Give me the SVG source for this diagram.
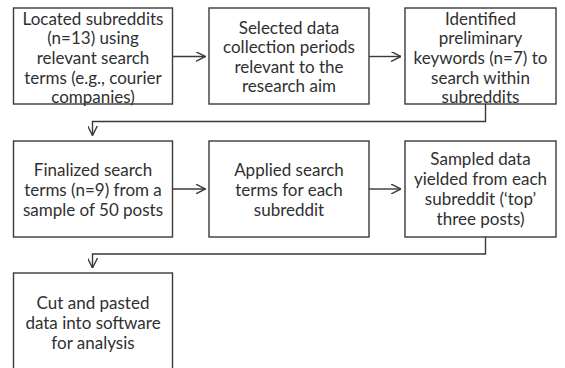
<svg xmlns="http://www.w3.org/2000/svg" width="565" height="368" viewBox="0 0 565 368">
<style>
  .box { fill: #ffffff; stroke: #3a3a3a; stroke-width: 1.4; }
  .lbl { font-family: "Lato", "Liberation Sans", sans-serif; font-size: 17px; fill: #303030; text-anchor: middle; dominant-baseline: central; }
  .conn { fill: none; stroke: #3a3a3a; stroke-width: 1.4; }
</style>
<defs>
  <marker id="chev" viewBox="0 0 10 10" refX="10" refY="5" markerWidth="10" markerHeight="10" markerUnits="userSpaceOnUse" orient="auto">
    <path d="M0,0 L10,5 L0,10" fill="none" stroke="#3a3a3a" stroke-width="1.4"/>
  </marker>
</defs>
<rect width="565" height="368" fill="#ffffff"/>
<g id="connectors">
  <path class="conn" d="M172.5,56.5 H205.5" marker-end="url(#chev)"/>
  <path class="conn" d="M369,56.5 H401" marker-end="url(#chev)"/>
  <path class="conn" d="M485.5,104 V121.5 H92.5 V135.5" marker-end="url(#chev)"/>
  <path class="conn" d="M172.5,189 H205.5" marker-end="url(#chev)"/>
  <path class="conn" d="M369,189 H401" marker-end="url(#chev)"/>
  <path class="conn" d="M485.5,237 V254 H92.5 V268" marker-end="url(#chev)"/>
</g>
<g id="n1">
  <rect class="box" x="13.5" y="8" width="159" height="96"/>
  <text class="lbl" x="93" y="18">Located subreddits</text>
  <text class="lbl" x="93" y="37.7">(n=13) using</text>
  <text class="lbl" x="93" y="57.4">relevant search</text>
  <text class="lbl" x="93" y="77.1">terms (e.g., courier</text>
  <text class="lbl" x="93" y="96.8">companies)</text>
</g>
<g id="n2">
  <rect class="box" x="209" y="8" width="160" height="96"/>
  <text class="lbl" x="289" y="27">Selected data</text>
  <text class="lbl" x="289" y="46.6">collection periods</text>
  <text class="lbl" x="289" y="66.2">relevant to the</text>
  <text class="lbl" x="289" y="85.8">research aim</text>
</g>
<g id="n3">
  <rect class="box" x="405" y="8" width="151" height="96"/>
  <text class="lbl" x="480.5" y="18">Identified</text>
  <text class="lbl" x="480.5" y="37.7">preliminary</text>
  <text class="lbl" x="480.5" y="57.4">keywords (n=7) to</text>
  <text class="lbl" x="480.5" y="77.1">search within</text>
  <text class="lbl" x="480.5" y="96.8">subreddits</text>
</g>
<g id="n4">
  <rect class="box" x="13.5" y="141" width="159" height="96"/>
  <text class="lbl" x="93" y="169">Finalized search</text>
  <text class="lbl" x="93" y="189">terms (n=9) from a</text>
  <text class="lbl" x="93" y="209">sample of 50 posts</text>
</g>
<g id="n5">
  <rect class="box" x="209" y="141" width="160" height="96"/>
  <text class="lbl" x="289" y="169">Applied search</text>
  <text class="lbl" x="289" y="189">terms for each</text>
  <text class="lbl" x="289" y="209">subreddit</text>
</g>
<g id="n6">
  <rect class="box" x="405" y="141" width="151" height="96"/>
  <text class="lbl" x="480.5" y="158">Sampled data</text>
  <text class="lbl" x="480.5" y="178">yielded from each</text>
  <text class="lbl" x="480.5" y="198">subreddit (‘top’</text>
  <text class="lbl" x="480.5" y="218">three posts)</text>
</g>
<g id="n7">
  <rect class="box" x="13.5" y="273" width="159" height="100"/>
  <text class="lbl" x="93" y="302">Cut and pasted</text>
  <text class="lbl" x="93" y="322">data into software</text>
  <text class="lbl" x="93" y="342">for analysis</text>
</g>
</svg>
